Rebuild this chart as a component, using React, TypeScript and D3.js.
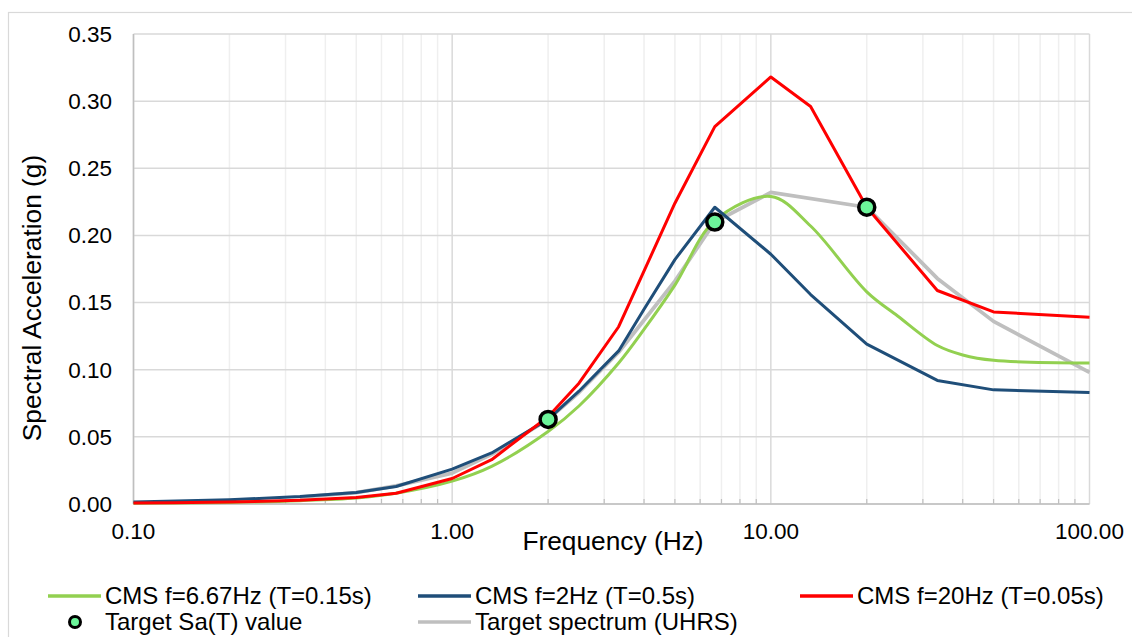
import * as d3 from 'd3';

// frequencies (Hz) and spectral accelerations (g)
const cms667Freq = [0.1, 0.133, 0.2, 0.333, 0.5, 0.667, 1, 1.33, 2, 2.5, 3.33, 4, 5, 6.67, 10, 13.33, 20, 25, 33.3, 40, 50, 100];
const cms667Sa   = [0.0006, 0.0008, 0.0012, 0.0025, 0.0045, 0.008, 0.017, 0.028, 0.054, 0.073, 0.105, 0.130, 0.163, 0.211, 0.229, 0.207, 0.158, 0.140, 0.118, 0.111, 0.107, 0.105];

const cms2Freq = [0.1, 0.2, 0.333, 0.5, 0.667, 1, 1.33, 2, 2.5, 3.33, 4, 5, 6.67, 10, 13.33, 20, 33.3, 50, 100];
const cms2Sa   = [0.0015, 0.0032, 0.0055, 0.0085, 0.013, 0.026, 0.038, 0.063, 0.084, 0.114, 0.145, 0.182, 0.221, 0.186, 0.156, 0.119, 0.092, 0.085, 0.083];

const cms20Freq = [0.1, 0.133, 0.2, 0.333, 0.5, 0.667, 1, 1.33, 2, 2.5, 3.33, 5, 6.67, 10, 13.33, 20, 33.3, 50, 100];
const cms20Sa   = [0.0007, 0.0009, 0.0014, 0.0028, 0.0048, 0.008, 0.019, 0.033, 0.065, 0.090, 0.132, 0.224, 0.281, 0.318, 0.296, 0.221, 0.159, 0.143, 0.139];

const uhrsFreq = [0.333, 0.5, 0.667, 1, 1.33, 2, 2.5, 3.33, 5, 6.67, 10, 20, 33.3, 50, 100];
const uhrsSa   = [0.0052, 0.0085, 0.0135, 0.023, 0.037, 0.063, 0.083, 0.113, 0.166, 0.210, 0.232, 0.221, 0.168, 0.136, 0.098];

const targetFreq = [2, 6.67, 20];
const targetSa   = [0.063, 0.210, 0.221];

const xTicks = [0.1, 1, 10, 100];
const yTicks = [0, 0.05, 0.1, 0.15, 0.2, 0.25, 0.3, 0.35];

const FONT = '"Liberation Sans", Arial, sans-serif';

export default function App() {
  const W = 1132, H = 637;
  const m = { left: 133.5, right: 1089.5, top: 34, bottom: 504 };

  const x = d3.scaleLog().domain([0.1, 100]).range([m.left, m.right]);
  const y = d3.scaleLinear().domain([0, 0.35]).range([m.bottom, m.top]);

  const minor: number[] = [];
  for (let d = 0.1; d < 100; d *= 10) {
    for (let k = 2; k <= 9; k++) minor.push(+(d * k).toFixed(3));
  }

  const mkLine = (curve: d3.CurveFactory) =>
    d3.line<[number, number]>().x((d) => x(d[0])).y((d) => y(d[1])).curve(curve);
  const zip = (f: number[], v: number[]) => f.map((fi, i) => [fi, v[i]] as [number, number]);

  const series = [
    { f: uhrsFreq, v: uhrsSa, color: '#bfbfbf', w: 3.75, curve: d3.curveLinear },
    { f: cms667Freq, v: cms667Sa, color: '#92d050', w: 3, curve: d3.curveCatmullRom.alpha(0.5) },
    { f: cms2Freq, v: cms2Sa, color: '#1f4e79', w: 3, curve: d3.curveLinear },
    { f: cms20Freq, v: cms20Sa, color: '#ff0000', w: 3, curve: d3.curveLinear },
  ];

  const legend = [
    { label: 'CMS f=6.67Hz (T=0.15s)', color: '#92d050', lx: 48, ly: 596, type: 'line' },
    { label: 'CMS f=2Hz (T=0.5s)', color: '#1f4e79', lx: 418, ly: 596, type: 'line' },
    { label: 'CMS f=20Hz (T=0.05s)', color: '#ff0000', lx: 800, ly: 596, type: 'line' },
    { label: 'Target Sa(T) value', color: '#6cf59a', lx: 48, ly: 622, type: 'dot' },
    { label: 'Target spectrum (UHRS)', color: '#bfbfbf', lx: 418, ly: 622, type: 'line' },
  ];

  return (
    <svg width={W} height={H} style={{ position: 'absolute', left: 0, top: 0, fontFamily: FONT }}>
      <rect x={0} y={0} width={W} height={H} fill="#fff" />
      <rect x={8.5} y={12.5} width={1140} height={700} fill="none" stroke="#d9d9d9" strokeWidth={1.2} />

      {/* grid */}
      {minor.map((t) => (
        <line key={'mv' + t} x1={x(t)} x2={x(t)} y1={m.top} y2={m.bottom} stroke="#efefef" strokeWidth={1.5} />
      ))}
      {xTicks.map((t) => (
        <line key={'Mv' + t} x1={x(t)} x2={x(t)} y1={m.top} y2={m.bottom} stroke="#d9d9d9" strokeWidth={1.5} />
      ))}
      {yTicks.map((t) => (
        <line key={'h' + t} x1={m.left} x2={m.right} y1={y(t)} y2={y(t)} stroke="#d9d9d9" strokeWidth={1.5} />
      ))}
      {/* axes */}
      <line x1={m.left} x2={m.left} y1={m.top} y2={m.bottom} stroke="#bfbfbf" strokeWidth={1.5} />
      <line x1={m.left} x2={m.right} y1={m.bottom} y2={m.bottom} stroke="#bfbfbf" strokeWidth={1.5} />
      {minor.map((t) => (
        <line key={'mt' + t} x1={x(t)} x2={x(t)} y1={m.bottom - 5} y2={m.bottom} stroke="#bfbfbf" strokeWidth={1.2} />
      ))}

      {/* tick labels */}
      {yTicks.map((t) => (
        <text key={'yl' + t} x={112} y={y(t)} dy="0.35em" textAnchor="end" fontSize={22.5} fill="#000">
          {d3.format('.2f')(t)}
        </text>
      ))}
      {xTicks.map((t) => (
        <text key={'xl' + t} x={x(t)} y={538.5} textAnchor="middle" fontSize={22.5} fill="#000">
          {d3.format('.2f')(t)}
        </text>
      ))}

      {/* axis titles */}
      <text x={613} y={550} textAnchor="middle" fontSize={26.3} fill="#000">Frequency (Hz)</text>
      <text transform="translate(41,298) rotate(-90)" textAnchor="middle" fontSize={26.3} fill="#000">
        Spectral Acceleration (g)
      </text>

      {/* series */}
      {series.map((s, i) => (
        <path key={i} d={mkLine(s.curve)(zip(s.f, s.v)) ?? ''} fill="none" stroke={s.color}
          strokeWidth={s.w} strokeLinejoin="round" />
      ))}
      {targetFreq.map((f, i) => (
        <circle key={'t' + i} cx={x(f)} cy={y(targetSa[i])} r={8} fill="#6cf59a" stroke="#000" strokeWidth={3.5} />
      ))}

      {/* legend */}
      {legend.map((l) => (
        <g key={l.label}>
          {l.type === 'line' ? (
            <line x1={l.lx} x2={l.lx + 53} y1={l.ly} y2={l.ly} stroke={l.color} strokeWidth={3.5} />
          ) : (
            <circle cx={l.lx + 27} cy={l.ly} r={5.5} fill={l.color} stroke="#000" strokeWidth={3} />
          )}
          <text x={l.lx + 57} y={l.ly} dy="0.35em" fontSize={24} fill="#000">{l.label}</text>
        </g>
      ))}
    </svg>
  );
}
